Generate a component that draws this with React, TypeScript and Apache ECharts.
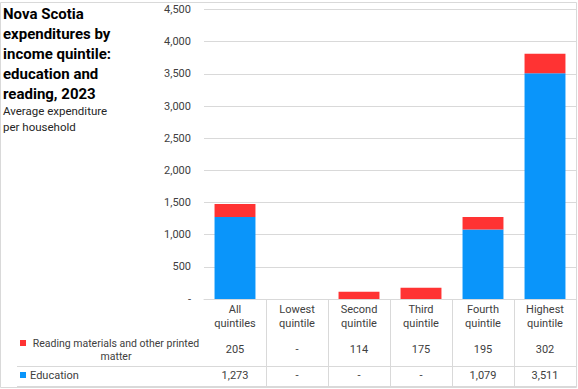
import React, { useEffect, useRef } from "react";
import * as echarts from "echarts";

const titleText = "Nova Scotia\nexpenditures by\nincome quintile:\neducation and\nreading, 2023";
const subtitleText = "Average expenditure\nper household";
const categories = [
  "All quintiles",
  "Lowest quintile",
  "Second quintile",
  "Third quintile",
  "Fourth quintile",
  "Highest quintile",
];
const readingName = "Reading materials and other printed matter";
const educationName = "Education";
const readingValues: (number | null)[] = [205, null, 114, 175, 195, 302];
const educationValues: (number | null)[] = [1273, null, null, null, 1079, 3511];
const yMin = 0;
const yMax = 4500;
const yInterval = 500;

const RED = "#FF3333";
const BLUE = "#0A95FA";
const GRID = "#D9D9D9";
const TXT = "#404040";
const FONT = "Roboto, 'Liberation Sans', sans-serif";

const fmt = (v: number | null) =>
  v == null || v === 0 ? "-" : v.toLocaleString("en-US");

const wrap = (text: string, maxChars: number) => {
  const words = text.split(" ");
  const lines: string[] = [];
  let cur = "";
  for (const w of words) {
    const next = cur ? cur + " " + w : w;
    if (next.length > maxChars && cur) {
      lines.push(cur);
      cur = w;
    } else cur = next;
  }
  if (cur) lines.push(cur);
  return lines;
};

export default function App() {
  const ref = useRef<HTMLDivElement>(null);
  useEffect(() => {
    if (!ref.current) return;
    const chart = echarts.init(ref.current, undefined, { renderer: "svg" });
    chart.setOption({
      animation: false,
      backgroundColor: "#ffffff",
      textStyle: { fontFamily: FONT },
      title: [
        {
          text: titleText,
          left: 3,
          top: 4,
          padding: 0,
          textStyle: {
            fontFamily: FONT,
            fontSize: 15,
            fontWeight: "bold",
            lineHeight: 20,
            color: "#000000",
          },
        },
        {
          text: subtitleText,
          left: 3,
          top: 103,
          padding: 0,
          textStyle: {
            fontFamily: FONT,
            fontSize: 11.5,
            fontWeight: "normal",
            lineHeight: 16,
            color: "#262626",
          },
        },
      ],
      grid: { left: 204, right: 2, top: 9.5, bottom: 90, containLabel: false },
      xAxis: {
        type: "category",
        data: categories,
        boundaryGap: true,
        axisLine: { show: true, lineStyle: { color: GRID, width: 1 } },
        axisTick: {
          show: true,
          length: 88,
          lineStyle: { color: GRID },
          interval: (index: number) => index !== 0,
        },
        axisLabel: {
          interval: 0,
          margin: 3,
          fontFamily: FONT,
          fontSize: 11,
          lineHeight: 14,
          color: TXT,
          formatter: (v: string) => v.split(" ").join("\n"),
        },
      },
      yAxis: {
        type: "value",
        min: yMin,
        max: yMax,
        interval: yInterval,
        axisLine: { show: false },
        axisTick: { show: false },
        splitLine: { lineStyle: { color: GRID, width: 1 } },
        axisLabel: {
          margin: 13,
          fontFamily: FONT,
          fontSize: 11,
          color: TXT,
          formatter: (v: number) => fmt(v),
        },
      },
      series: [
        {
          name: educationName,
          type: "bar",
          stack: "total",
          data: educationValues,
          barWidth: "66%",
          itemStyle: { color: BLUE },
        },
        {
          name: readingName,
          type: "bar",
          stack: "total",
          data: readingValues,
          barWidth: "66%",
          itemStyle: { color: RED },
        },
      ],
    });

    const redRowY = 349;
    const blueRowY = 375;
    const graphics: any[] = [];
    categories.forEach((c, i) => {
      const x = chart.convertToPixel({ xAxisIndex: 0 }, i) as number;
      graphics.push({
        type: "text",
        x,
        y: redRowY,
        style: {
          text: fmt(readingValues[i]),
          fill: TXT,
          font: `11px ${FONT}`,
          align: "center",
          verticalAlign: "middle",
        },
      });
      graphics.push({
        type: "text",
        x,
        y: blueRowY,
        style: {
          text: fmt(educationValues[i]),
          fill: TXT,
          font: `11px ${FONT}`,
          align: "center",
          verticalAlign: "middle",
        },
      });
    });
    const rightX = 576.5;
    graphics.push({
      type: "line",
      shape: { x1: 17, y1: 366.5, x2: rightX, y2: 366.5 },
      style: { stroke: GRID, lineWidth: 1 },
    });
    graphics.push({
      type: "line",
      shape: { x1: 17, y1: 386.5, x2: rightX, y2: 386.5 },
      style: { stroke: GRID, lineWidth: 1 },
    });
    const readingLines = wrap(readingName, 35);
    graphics.push({
      type: "rect",
      shape: { x: 20, y: 340, width: 6, height: 6 },
      style: { fill: RED },
    });
    readingLines.forEach((ln, k) => {
      graphics.push({
        type: "text",
        x: 116,
        y: 343 + k * 13.5,
        style: {
          text: ln,
          fill: TXT,
          font: `10.5px ${FONT}`,
          align: "center",
          verticalAlign: "middle",
        },
      });
    });
    graphics.push({
      type: "rect",
      shape: { x: 20, y: 372, width: 6, height: 6 },
      style: { fill: BLUE },
    });
    graphics.push({
      type: "text",
      x: 30,
      y: 375,
      style: {
        text: educationName,
        fill: TXT,
        font: `11px ${FONT}`,
        align: "left",
        verticalAlign: "middle",
      },
    });
    graphics.push({
      type: "rect",
      shape: { x: 0.5, y: 2.5, width: 576, height: 385 },
      style: { fill: "none", stroke: GRID, lineWidth: 1 },
      z: 100,
    });
    chart.setOption({ graphic: graphics });

    return () => chart.dispose();
  }, []);
  return (
    <div
      ref={ref}
      style={{ position: "fixed", left: 0, top: 0, width: 578, height: 389 }}
    />
  );
}
